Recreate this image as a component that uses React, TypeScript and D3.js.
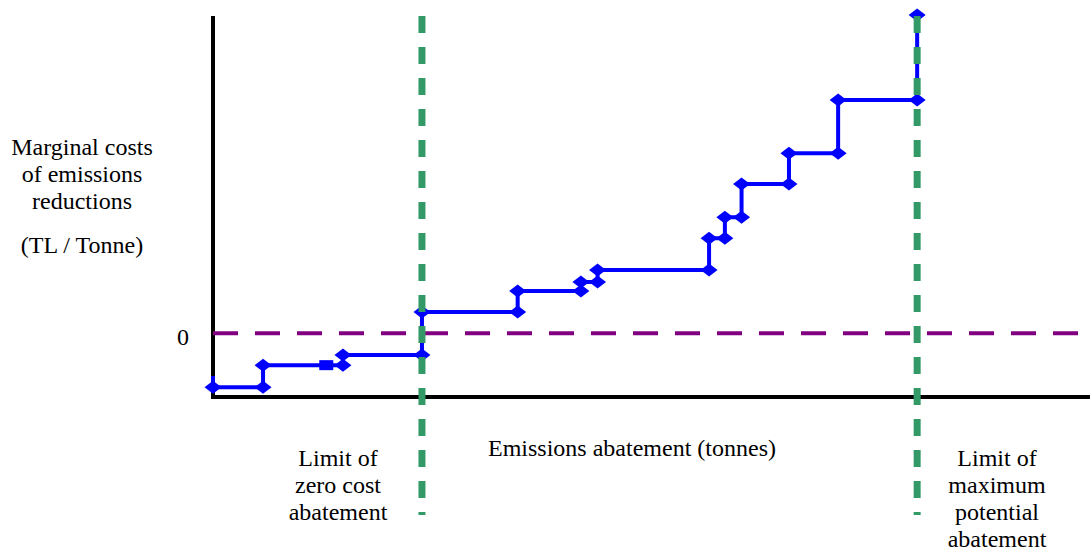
import React from "react";
import * as d3 from "d3";

// Cumulative abatement (thousand tonnes) at the end of each measure
const stepEnds = [5.7, 14.8, 23.8, 34.7, 41.9, 43.8, 56.5, 58.3, 60.2, 65.6, 71.2, 80.2];
// Marginal cost of each measure (TL / tonne)
const stepCosts = [-16.9, -10, -6.8, 6.7, 13.3, 16.1, 19.9, 29.9, 36.5, 46.9, 56.6, 73.3];
const startCost = -13.4;
const finalCost = 100;
const squarePoints = [{ x: 12.9, y: -10 }];
const zeroCostLimit = 23.8;
const maxPotentialLimit = 80.2;

const yLabelLines = ["Marginal costs", "of emissions", "reductions"];
const yUnitLabel = "(TL / Tonne)";
const xLabel = "Emissions abatement (tonnes)";
const leftLimitLines = ["Limit of", "zero cost", "abatement"];
const rightLimitLines = ["Limit of", "maximum", "potential", "abatement"];

const W = 1090;
const H = 551;

export default function App() {
  const x = d3.scaleLinear().domain([0, 100]).range([213, 1091]);
  const y = d3.scaleLinear().domain([-20, 100]).range([397, 15]);

  const pts: [number, number][] = [[0, startCost]];
  const markers: [number, number][] = [];
  let prev = 0;
  stepEnds.forEach((end, i) => {
    pts.push([prev, stepCosts[i]]);
    pts.push([end, stepCosts[i]]);
    markers.push([prev, stepCosts[i]]);
    markers.push([end, stepCosts[i]]);
    prev = end;
  });
  pts.push([prev, finalCost]);
  markers.push([prev, finalCost]);

  const line = d3
    .line<[number, number]>()
    .x((d) => x(d[0]))
    .y((d) => y(d[1]));

  const diamond = "M0,-6.5L8.5,0L0,6.5L-8.5,0Z";
  const font = "'Liberation Serif', 'Times New Roman', Times, serif";
  const fs = 24;

  return (
    <svg
      width={W}
      height={H}
      style={{ position: "absolute", left: 0, top: 0, background: "#fff", fontFamily: font, fontSize: fs }}
    >
      <rect width={W} height={H} fill="#fff" />
      {/* axes */}
      <line x1={x(0)} x2={x(0)} y1={y(100) + 1} y2={y(-20) + 2} stroke="#000" strokeWidth={4} />
      <line x1={x(0) - 2} x2={W} y1={y(-20)} y2={y(-20)} stroke="#000" strokeWidth={4} />
      {/* zero line */}
      <line
        x1={x(0)}
        x2={1078}
        y1={y(0)}
        y2={y(0)}
        stroke="#800080"
        strokeWidth={4}
        strokeDasharray="25 17"
      />
      {/* MAC curve */}
      <path d={line(pts) || ""} fill="none" stroke="#0000ff" strokeWidth={4} strokeLinejoin="miter" />
      {markers.map((m, i) => (
        <path key={i} d={diamond} transform={`translate(${x(m[0])},${y(m[1])})`} fill="#0000ff" />
      ))}
      {squarePoints.map((s, i) => (
        <rect key={i} x={x(s.x) - 7} y={y(s.y) - 5} width={14} height={10} fill="#0000ff" />
      ))}
      {/* limit lines */}
      {[zeroCostLimit, maxPotentialLimit].map((v, i) => (
        <line
          key={i}
          x1={x(v)}
          x2={x(v)}
          y1={16}
          y2={515}
          stroke="#339966"
          strokeWidth={7}
          strokeDasharray="17 14"
        />
      ))}
      {/* texts */}
      {yLabelLines.map((t, i) => (
        <text key={i} x={82} y={155 + i * 27} textAnchor="middle">
          {t}
        </text>
      ))}
      <text x={82} y={253} textAnchor="middle">
        {yUnitLabel}
      </text>
      <text x={183} y={345} textAnchor="middle">
        0
      </text>
      <text x={632} y={456} textAnchor="middle">
        {xLabel}
      </text>
      {leftLimitLines.map((t, i) => (
        <text key={i} x={338} y={466 + i * 27} textAnchor="middle">
          {t}
        </text>
      ))}
      {rightLimitLines.map((t, i) => (
        <text key={i} x={997} y={466 + i * 27} textAnchor="middle">
          {t}
        </text>
      ))}
    </svg>
  );
}
